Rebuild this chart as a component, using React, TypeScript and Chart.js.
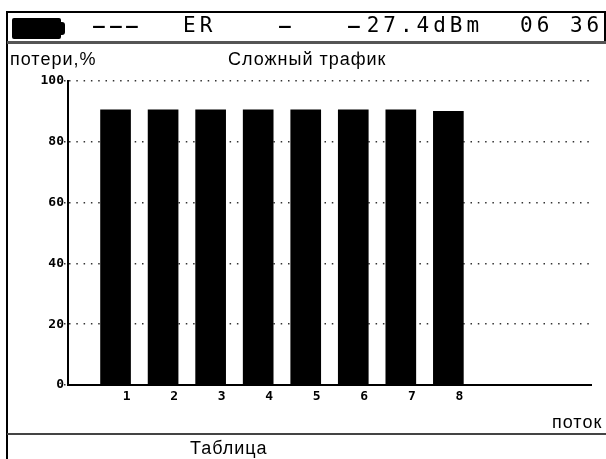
import React, { useEffect, useRef } from 'react';
import { Chart, registerables } from 'chart.js';

Chart.register(...registerables);

// ---- data ----
const categories = ['1', '2', '3', '4', '5', '6', '7', '8'];
const lossValues = [90.5, 90.5, 90.5, 90.5, 90.5, 90.5, 90.5, 90.0];
const yMin = 0;
const yMax = 100;
const yStep = 20;
const xSlots = 11; // stream slots along the axis
const chartTitle = 'Сложный трафик';
const yAxisTitle = 'потери,%';
const xAxisTitle = 'поток';
const footerText = 'Таблица';

const tickFont = { family: 'DejaVu Sans Mono', size: 13, weight: 'bold' as const };

const headerFont: React.CSSProperties = {
  position: 'absolute',
  fontFamily: '"DejaVu Sans Mono", monospace',
  fontSize: 21,
  lineHeight: 1,
  letterSpacing: 4,
  whiteSpace: 'nowrap',
  color: '#000',
  top: 15,
};

const bodyFont: React.CSSProperties = {
  position: 'absolute',
  fontFamily: '"Liberation Sans", Arial, sans-serif',
  fontSize: 18,
  lineHeight: 1,
  letterSpacing: 1,
  whiteSpace: 'nowrap',
  color: '#000',
};

const dash: React.CSSProperties = { display: 'inline-block', transform: 'scale(2.2, 1.3)' };

export default function App() {
  const ref = useRef<HTMLCanvasElement>(null);

  useEffect(() => {
    const chart = new Chart(ref.current!, {
      type: 'bar',
      data: {
        datasets: [
          {
            data: categories.map((c, i) => ({ x: i + 1, y: lossValues[i] })),
            backgroundColor: '#000',
            borderWidth: 0,
            barThickness: 30,
          },
        ],
      },
      options: {
        animation: false,
        responsive: true,
        maintainAspectRatio: false,
        layout: { padding: { top: 81, right: 15, bottom: 34, left: 0 } },
        plugins: { legend: { display: false }, tooltip: { enabled: false } },
        scales: {
          x: {
            type: 'linear',
            min: 0,
            max: xSlots,
            offset: false,
            afterFit: (s: any) => {
              s.height = 40;
            },
            grid: { display: false, drawTicks: false, offset: false },
            border: { display: true, color: '#000', width: 2 },
            ticks: {
              stepSize: 1,
              autoSkip: false,
              maxRotation: 0,
              labelOffset: 11,
              padding: 4,
              color: '#000',
              font: tickFont,
              callback: (v: any) => categories[Number(v) - 1] ?? '',
            },
          },
          y: {
            min: yMin,
            max: yMax,
            afterFit: (s: any) => {
              s.width = 68;
            },
            grid: {
              color: '#333',
              lineWidth: 1.5,
              drawTicks: true,
              tickLength: 4,
              tickColor: '#333',
              tickBorderDash: [1.5, 2],
            },
            border: { display: true, color: '#000', width: 2, dash: [1.5, 5.8] },
            ticks: {
              stepSize: yStep,
              padding: 0,
              color: '#000',
              font: tickFont,
            },
          },
        },
      },
    });
    return () => chart.destroy();
  }, []);

  return (
    <div
      style={{
        position: 'absolute',
        left: 0,
        top: 0,
        width: 606,
        height: 459,
        background: '#fff',
        overflow: 'hidden',
      }}
    >
      <div style={{ position: 'absolute', left: 0, top: 0, width: 606, height: 459 }}>
        <canvas ref={ref} />
      </div>

      {/* frame */}
      <div style={{ position: 'absolute', left: 7, top: 11, width: 599, height: 2, background: '#000' }} />
      <div style={{ position: 'absolute', left: 6, top: 11, width: 2, height: 448, background: '#000' }} />
      <div style={{ position: 'absolute', left: 604, top: 11, width: 2, height: 32, background: '#000' }} />
      <div style={{ position: 'absolute', left: 7, top: 41, width: 599, height: 3, background: '#555' }} />
      <div style={{ position: 'absolute', left: 7, top: 433, width: 599, height: 2, background: '#444' }} />

      {/* header */}
      <div
        style={{
          position: 'absolute',
          left: 12,
          top: 18,
          width: 49,
          height: 21,
          background: '#000',
          borderRadius: 2,
        }}
      />
      <div
        style={{
          position: 'absolute',
          left: 60,
          top: 22,
          width: 5,
          height: 13,
          background: '#000',
          borderRadius: '0 3px 3px 0',
        }}
      />
      <div style={{ ...headerFont, left: 95 }}>
        <span style={dash}>-</span>
        <span style={dash}>-</span>
        <span style={dash}>-</span>
      </div>
      <div style={{ ...headerFont, left: 183 }}>ER</div>
      <div style={{ ...headerFont, left: 281 }}>
        <span style={dash}>-</span>
      </div>
      <div style={{ ...headerFont, left: 350 }}>
        <span style={dash}>-</span>27.4dBm
      </div>
      <div style={{ ...headerFont, left: 520 }}>06 36</div>

      {/* texts */}
      <div style={{ ...bodyFont, left: 10, top: 50 }}>{yAxisTitle}</div>
      <div style={{ ...bodyFont, left: 228, top: 50 }}>{chartTitle}</div>
      <div style={{ ...bodyFont, left: 552, top: 413 }}>{xAxisTitle}</div>
      <div style={{ ...bodyFont, left: 190, top: 439 }}>{footerText}</div>
    </div>
  );
}
